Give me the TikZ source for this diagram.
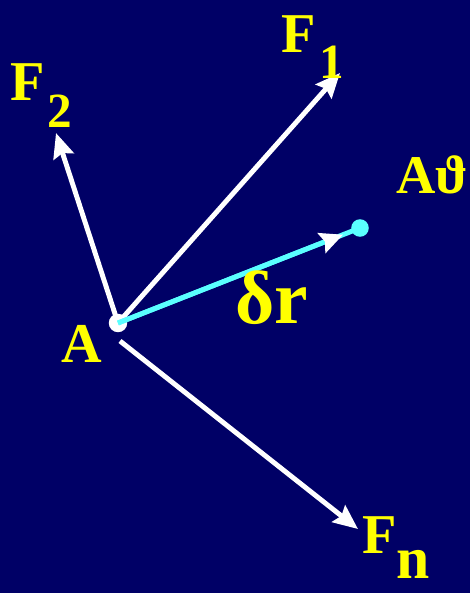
\documentclass[tikz,border=0pt]{standalone}
\usepackage{fontspec}
\setmainfont{Liberation Serif}
\usetikzlibrary{arrows.meta,calc}

\definecolor{bgblue}{RGB}{0,0,102}
\definecolor{lblyellow}{RGB}{255,255,0}
\definecolor{dispcyan}{RGB}{90,255,255}

\begin{document}
\begin{tikzpicture}[x=0.02cm,y=-0.02cm,
  force/.style={white,line width=2.8pt,-{Stealth[length=14pt,width=12pt,inset=2pt]}},
  lbl/.style={text=lblyellow,inner sep=0pt,anchor=base west}]

\fill[bgblue] (0,0) rectangle (470,593);

% points
\coordinate (f1tip) at (340,73);
\coordinate (f2tip) at (56,133);
\coordinate (fnstart) at (120,341);
\coordinate (fntip) at (358,529);

% forces on A
\draw[force] (118,323) -- (f1tip);
\draw[force] (118,323) -- (f2tip);
\draw[force] (fnstart) -- (fntip);

\node[circle,fill=white,minimum size=10.5pt,inner sep=0pt] (A) at (118,323) {};
\node[circle,fill=dispcyan,minimum size=10pt,inner sep=0pt] (Ap) at (360,228) {};

% virtual displacement
\draw[dispcyan,line width=2.8pt] (A.center) -- (Ap.center);
\coordinate (dtip) at ($(A.center)!0.93!(Ap.center)$);
\draw[dispcyan,line width=2.8pt,-{Stealth[color=white,length=13pt,width=12pt,inset=2pt]}] (A.center) -- (dtip);

% labels
\node[lbl,font=\fontsize{32}{36}\selectfont\bfseries] (F2) at (10,100) {F};
\node[lbl,font=\fontsize{28}{32}\selectfont\bfseries] (F2i) at (47,127) {2};
\node[lbl,font=\fontsize{32}{36}\selectfont\bfseries] (F1) at (281,52) {F};
\node[lbl,font=\fontsize{28}{32}\selectfont\bfseries] (F1i) at (319,78) {1};
\node[lbl,font=\fontsize{32}{36}\selectfont\bfseries] (Fn) at (362,553) {F};
\node[lbl,font=\fontsize{34}{38}\selectfont\bfseries] (Fni) at (396,578) {n};
\node[lbl,font=\fontsize{32}{36}\selectfont\bfseries] (Alab) at (61,362) {A};
\node[lbl,font=\fontsize{31}{35}\selectfont\bfseries] (Aplab) at (396,193) {Aϑ};
\node[lbl,font=\fontsize{43}{47}\selectfont\bfseries] (dr) at (235,323) {δr};

\end{tikzpicture}
\end{document}
